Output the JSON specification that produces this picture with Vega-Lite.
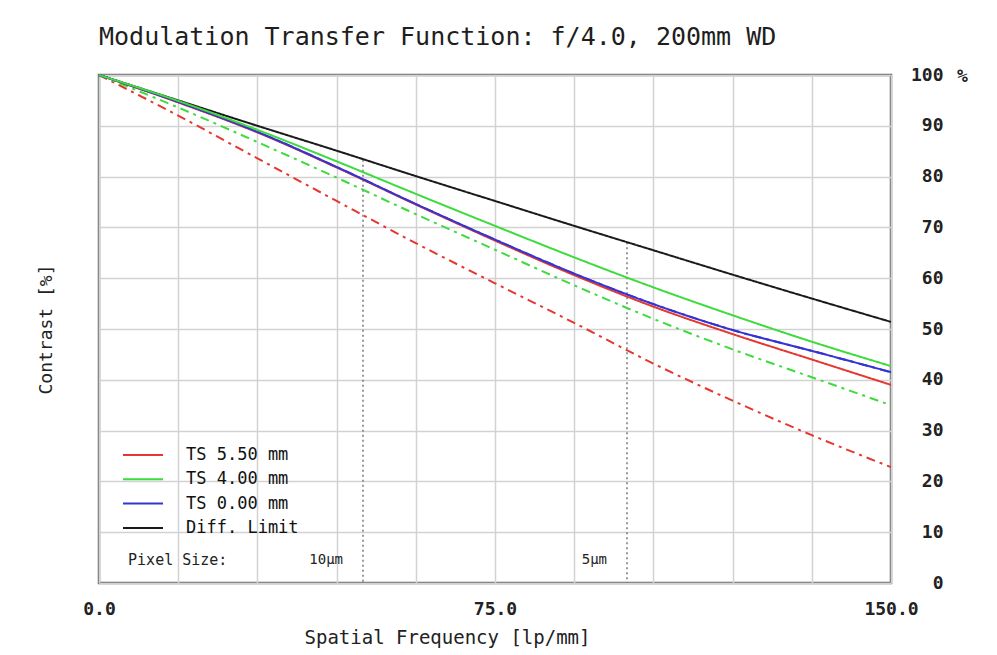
{
  "$schema": "https://vega.github.io/schema/vega-lite/v6.json",
  "autosize": "none",
  "width": 792,
  "height": 508,
  "padding": {"left": 99, "top": 75, "right": 106, "bottom": 72},
  "background": "white",
  "title": {
    "text": "Modulation Transfer Function: f/4.0, 200mm WD",
    "anchor": "start",
    "frame": "group",
    "font": "DejaVu Sans Mono",
    "fontSize": 25,
    "fontWeight": "normal",
    "color": "#1e1e1e",
    "baseline": "alphabetic",
    "offset": -4
  },
  "config": {
    "view": {"stroke": "#6e6e6e", "strokeWidth": 2.5},
    "font": "DejaVu Sans Mono"
  },
  "datasets": {
    "curves": [
      {"nu": 0, "v": 100, "s": "Diff. Limit", "d": "T"},
      {"nu": 15, "v": 95.0, "s": "Diff. Limit", "d": "T"},
      {"nu": 30, "v": 90.0, "s": "Diff. Limit", "d": "T"},
      {"nu": 45, "v": 85.1, "s": "Diff. Limit", "d": "T"},
      {"nu": 60, "v": 80.1, "s": "Diff. Limit", "d": "T"},
      {"nu": 75, "v": 75.2, "s": "Diff. Limit", "d": "T"},
      {"nu": 90, "v": 70.3, "s": "Diff. Limit", "d": "T"},
      {"nu": 105, "v": 65.5, "s": "Diff. Limit", "d": "T"},
      {"nu": 120, "v": 60.7, "s": "Diff. Limit", "d": "T"},
      {"nu": 135, "v": 56.0, "s": "Diff. Limit", "d": "T"},
      {"nu": 150, "v": 51.4, "s": "Diff. Limit", "d": "T"},
      {"nu": 0, "v": 100, "s": "TS 5.50 mm", "d": "S"},
      {"nu": 15, "v": 92.0, "s": "TS 5.50 mm", "d": "S"},
      {"nu": 30, "v": 83.6, "s": "TS 5.50 mm", "d": "S"},
      {"nu": 45, "v": 75.2, "s": "TS 5.50 mm", "d": "S"},
      {"nu": 60, "v": 66.9, "s": "TS 5.50 mm", "d": "S"},
      {"nu": 75, "v": 59.0, "s": "TS 5.50 mm", "d": "S"},
      {"nu": 90, "v": 51.2, "s": "TS 5.50 mm", "d": "S"},
      {"nu": 105, "v": 43.2, "s": "TS 5.50 mm", "d": "S"},
      {"nu": 120, "v": 35.9, "s": "TS 5.50 mm", "d": "S"},
      {"nu": 135, "v": 29.1, "s": "TS 5.50 mm", "d": "S"},
      {"nu": 150, "v": 22.8, "s": "TS 5.50 mm", "d": "S"},
      {"nu": 0, "v": 100, "s": "TS 4.00 mm", "d": "S"},
      {"nu": 15, "v": 93.6, "s": "TS 4.00 mm", "d": "S"},
      {"nu": 30, "v": 86.8, "s": "TS 4.00 mm", "d": "S"},
      {"nu": 45, "v": 79.8, "s": "TS 4.00 mm", "d": "S"},
      {"nu": 60, "v": 72.6, "s": "TS 4.00 mm", "d": "S"},
      {"nu": 75, "v": 65.6, "s": "TS 4.00 mm", "d": "S"},
      {"nu": 90, "v": 58.6, "s": "TS 4.00 mm", "d": "S"},
      {"nu": 105, "v": 52.0, "s": "TS 4.00 mm", "d": "S"},
      {"nu": 120, "v": 46.0, "s": "TS 4.00 mm", "d": "S"},
      {"nu": 135, "v": 40.5, "s": "TS 4.00 mm", "d": "S"},
      {"nu": 150, "v": 35.0, "s": "TS 4.00 mm", "d": "S"},
      {"nu": 0, "v": 100, "s": "TS 0.00 mm", "d": "S"},
      {"nu": 15, "v": 94.7, "s": "TS 0.00 mm", "d": "S"},
      {"nu": 30, "v": 88.8, "s": "TS 0.00 mm", "d": "S"},
      {"nu": 45, "v": 81.9, "s": "TS 0.00 mm", "d": "S"},
      {"nu": 60, "v": 74.6, "s": "TS 0.00 mm", "d": "S"},
      {"nu": 75, "v": 67.6, "s": "TS 0.00 mm", "d": "S"},
      {"nu": 90, "v": 60.9, "s": "TS 0.00 mm", "d": "S"},
      {"nu": 105, "v": 54.9, "s": "TS 0.00 mm", "d": "S"},
      {"nu": 120, "v": 49.8, "s": "TS 0.00 mm", "d": "S"},
      {"nu": 135, "v": 45.7, "s": "TS 0.00 mm", "d": "S"},
      {"nu": 150, "v": 41.5, "s": "TS 0.00 mm", "d": "S"},
      {"nu": 0, "v": 100, "s": "TS 5.50 mm", "d": "T"},
      {"nu": 15, "v": 94.6, "s": "TS 5.50 mm", "d": "T"},
      {"nu": 30, "v": 88.7, "s": "TS 5.50 mm", "d": "T"},
      {"nu": 45, "v": 81.8, "s": "TS 5.50 mm", "d": "T"},
      {"nu": 60, "v": 74.5, "s": "TS 5.50 mm", "d": "T"},
      {"nu": 75, "v": 67.4, "s": "TS 5.50 mm", "d": "T"},
      {"nu": 90, "v": 60.6, "s": "TS 5.50 mm", "d": "T"},
      {"nu": 105, "v": 54.4, "s": "TS 5.50 mm", "d": "T"},
      {"nu": 120, "v": 49.0, "s": "TS 5.50 mm", "d": "T"},
      {"nu": 135, "v": 44.0, "s": "TS 5.50 mm", "d": "T"},
      {"nu": 150, "v": 39.0, "s": "TS 5.50 mm", "d": "T"},
      {"nu": 0, "v": 100, "s": "TS 0.00 mm", "d": "T"},
      {"nu": 15, "v": 94.7, "s": "TS 0.00 mm", "d": "T"},
      {"nu": 30, "v": 88.8, "s": "TS 0.00 mm", "d": "T"},
      {"nu": 45, "v": 81.9, "s": "TS 0.00 mm", "d": "T"},
      {"nu": 60, "v": 74.6, "s": "TS 0.00 mm", "d": "T"},
      {"nu": 75, "v": 67.6, "s": "TS 0.00 mm", "d": "T"},
      {"nu": 90, "v": 60.9, "s": "TS 0.00 mm", "d": "T"},
      {"nu": 105, "v": 54.9, "s": "TS 0.00 mm", "d": "T"},
      {"nu": 120, "v": 49.8, "s": "TS 0.00 mm", "d": "T"},
      {"nu": 135, "v": 45.7, "s": "TS 0.00 mm", "d": "T"},
      {"nu": 150, "v": 41.5, "s": "TS 0.00 mm", "d": "T"},
      {"nu": 0, "v": 100, "s": "TS 4.00 mm", "d": "T"},
      {"nu": 15, "v": 94.9, "s": "TS 4.00 mm", "d": "T"},
      {"nu": 30, "v": 89.2, "s": "TS 4.00 mm", "d": "T"},
      {"nu": 45, "v": 83.0, "s": "TS 4.00 mm", "d": "T"},
      {"nu": 60, "v": 76.6, "s": "TS 4.00 mm", "d": "T"},
      {"nu": 75, "v": 70.3, "s": "TS 4.00 mm", "d": "T"},
      {"nu": 90, "v": 64.1, "s": "TS 4.00 mm", "d": "T"},
      {"nu": 105, "v": 58.2, "s": "TS 4.00 mm", "d": "T"},
      {"nu": 120, "v": 52.7, "s": "TS 4.00 mm", "d": "T"},
      {"nu": 135, "v": 47.5, "s": "TS 4.00 mm", "d": "T"},
      {"nu": 150, "v": 42.7, "s": "TS 4.00 mm", "d": "T"}
    ],
    "nyquist": [
      {"nu": 50, "top": 83.3, "label": "10µm"},
      {"nu": 100, "top": 67.1, "label": "5µm"}
    ]
  },
  "layer": [
    {
      "data": {"name": "nyquist"},
      "mark": {"type": "rule", "color": "#777777", "strokeWidth": 1.5, "strokeDash": [2, 3]},
      "encoding": {
        "x": {"field": "nu", "type": "quantitative", "title": "Spatial Frequency [lp/mm]"},
        "y": {
          "field": "top",
          "type": "quantitative",
          "scale": {"domain": [0, 100], "nice": false},
          "axis": {
            "orient": "left",
            "labels": false,
            "ticks": false,
            "domain": false,
            "grid": false,
            "title": "Contrast [%]",
            "titleFont": "DejaVu Sans Mono",
            "titleFontSize": 18,
            "titleFontWeight": "normal",
            "titleColor": "#222222",
            "titlePadding": 44
          }
        },
        "y2": {"datum": 0}
      }
    },
    {
      "data": {"name": "curves"},
      "mark": {"type": "line", "interpolate": "monotone", "strokeWidth": 2},
      "encoding": {
        "x": {
          "field": "nu",
          "type": "quantitative",
          "scale": {"domain": [0, 150], "nice": false, "zero": false},
          "title": "Spatial Frequency [lp/mm]",
          "axis": {
            "orient": "bottom",
            "values": [0, 15, 30, 45, 60, 75, 90, 105, 120, 135, 150],
            "labelExpr": "datum.value % 75 === 0 ? format(datum.value, '.1f') : ''",
            "labelOverlap": false,
            "labelFlush": false,
            "labelBound": false,
            "grid": true,
            "gridColor": "#d2d2d2",
            "gridWidth": 1.5,
            "ticks": false,
            "domain": false,
            "labelFont": "DejaVu Sans Mono",
            "labelFontSize": 18,
            "labelFontWeight": "bold",
            "labelColor": "#222222",
            "labelPadding": 17,
            "titleFont": "DejaVu Sans Mono",
            "titleFontSize": 19,
            "titleFontWeight": "normal",
            "titleColor": "#222222",
            "titleX": 348,
            "titleY": 54,
            "titleAlign": "center",
            "titleBaseline": "middle"
          }
        },
        "y": {
          "field": "v",
          "type": "quantitative",
          "scale": {"domain": [0, 100], "nice": false},
          "axis": {
            "orient": "right",
            "values": [0, 10, 20, 30, 40, 50, 60, 70, 80, 90, 100],
            "grid": true,
            "gridColor": "#d2d2d2",
            "gridWidth": 1.5,
            "ticks": false,
            "domain": false,
            "labelAlign": "right",
            "labelBaseline": "middle",
            "labelPadding": 52,
            "labelFont": "DejaVu Sans Mono",
            "labelFontSize": 18,
            "labelFontWeight": "bold",
            "labelColor": "#222222",
            "title": "%",
            "titleAngle": 0,
            "titleX": 71,
            "titleY": 1,
            "titleAlign": "center",
            "titleBaseline": "middle",
            "titleFont": "DejaVu Sans Mono",
            "titleFontSize": 18,
            "titleFontWeight": "bold",
            "titleColor": "#222222"
          }
        },
        "color": {
          "field": "s",
          "type": "nominal",
          "scale": {
            "domain": ["TS 5.50 mm", "TS 4.00 mm", "TS 0.00 mm", "Diff. Limit"],
            "range": ["#e5372f", "#3ddb3d", "#3434d4", "#1a1a1a"]
          },
          "legend": {
            "orient": "none",
            "legendX": 23,
            "legendY": 369,
            "title": null,
            "padding": 0,
            "symbolType": "stroke",
            "symbolSize": 1600,
            "symbolStrokeWidth": 2,
            "clipHeight": 22,
            "rowPadding": 2.3,
            "labelFont": "DejaVu Sans Mono",
            "labelFontSize": 17,
            "labelColor": "#111111",
            "labelOffset": 22
          }
        },
        "strokeDash": {
          "field": "d",
          "type": "nominal",
          "scale": {"domain": ["T", "S"], "range": [[1, 0], [9, 5, 3, 5]]},
          "legend": null
        },
        "order": {"field": "nu", "type": "quantitative"}
      }
    },
    {
      "data": {"name": "nyquist"},
      "mark": {"type": "text", "align": "right", "baseline": "middle", "dx": -20, "font": "DejaVu Sans Mono", "fontSize": 14, "color": "#222222"},
      "encoding": {
        "x": {"field": "nu", "type": "quantitative", "title": "Spatial Frequency [lp/mm]"},
        "y": {"datum": 4.5, "type": "quantitative", "axis": null},
        "text": {"field": "label"}
      }
    },
    {
      "data": {"values": [{"t": "Pixel Size:"}]},
      "mark": {"type": "text", "align": "left", "baseline": "middle", "font": "DejaVu Sans Mono", "fontSize": 15, "color": "#222222"},
      "encoding": {
        "x": {"datum": 5.5, "type": "quantitative", "title": "Spatial Frequency [lp/mm]"},
        "y": {"datum": 4.5, "type": "quantitative", "axis": null},
        "text": {"field": "t"}
      }
    }
  ],
  "resolve": {"scale": {"y": "shared"}, "axis": {"y": "independent"}}
}
